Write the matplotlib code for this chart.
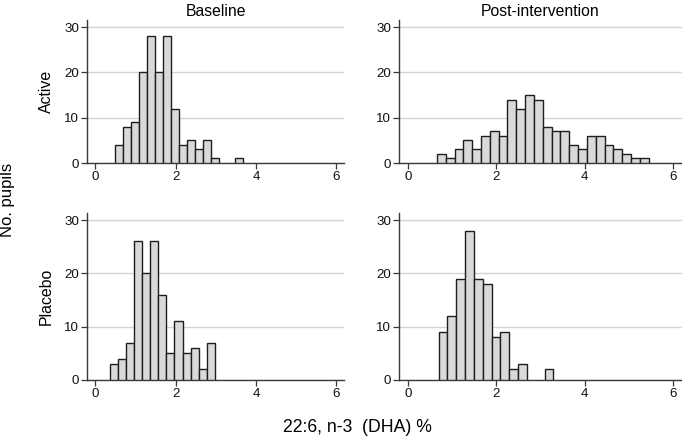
import numpy as np
import matplotlib
matplotlib.use("Agg")
import matplotlib.pyplot as plt

plt.rcParams['font.family'] = ['Liberation Sans', 'DejaVu Sans']

# ---- data ----
bin_width = 0.2
active_base_start = 0.48
active_base_counts = [4, 8, 9, 20, 28, 20, 28, 12, 4, 5, 3, 5, 1, 0, 0, 1]
active_post_start = 0.65
active_post_counts = [2, 1, 3, 5, 3, 6, 7, 6, 14, 12, 15, 14, 8, 7, 7, 4, 3, 6, 6, 4, 3, 2, 1, 1]
placebo_base_start = 0.37
placebo_base_counts = [3, 4, 7, 26, 20, 26, 16, 5, 11, 5, 6, 2, 7]
placebo_post_start = 0.69
placebo_post_counts = [9, 12, 19, 28, 19, 18, 8, 9, 2, 3, 0, 0, 2]

col_titles = ["Baseline", "Post-intervention"]
row_titles = ["Active", "Placebo"]
xticks = [0, 2, 4, 6]
yticks = [0, 10, 20, 30]
xlabel = "22:6, n-3  (DHA) %"
ylabel = "No. pupils"

W, H = 682, 437
fig = plt.figure(figsize=(W / 100, H / 100), dpi=100)

cols_px = [(87.3, 344.0), (399.3, 681.5)]
rows_px = [(20.0, 163.0), (212.7, 380.0)]

panels = [
    [(active_base_start, active_base_counts), (active_post_start, active_post_counts)],
    [(placebo_base_start, placebo_base_counts), (placebo_post_start, placebo_post_counts)],
]

spine_col = "#3a3a3a"
for r in range(2):
    for c in range(2):
        x0, x1 = cols_px[c]
        yt, yb = rows_px[r]
        ax = fig.add_axes([x0 / W, 1 - yb / H, (x1 - x0) / W, (yb - yt) / H])
        start, counts = panels[r][c]
        counts = np.array(counts)
        edges = start + bin_width * np.arange(len(counts))
        mask = counts > 0
        ax.bar(edges[mask], counts[mask], width=bin_width, align='edge',
               color="#d9d9d9", edgecolor="#1e1e1e", linewidth=1.0, zorder=3)
        ax.set_xlim(-0.2, 6.19)
        ax.set_ylim(0, 31.6 if r == 0 else 31.4)
        ax.set_xticks(xticks)
        ax.set_yticks(yticks)
        ax.grid(axis='y', color="#d4d4d4", linewidth=1.0, zorder=0)
        ax.set_axisbelow(True)
        for s in ("top", "right"):
            ax.spines[s].set_visible(False)
        for s in ("left", "bottom"):
            ax.spines[s].set_color(spine_col)
            ax.spines[s].set_linewidth(1.0)
        ax.tick_params(axis='both', length=4, width=0.9, color=spine_col,
                       labelsize=9.6, pad=2, labelcolor="#111111")
        if r == 0:
            ax.set_title(col_titles[c], fontsize=11.3, pad=3)
        if c == 0:
            fig.text(46.5 / W, 1 - ((yt + yb) / 2) / H, row_titles[r], rotation=90,
                     ha='center', va='center', fontsize=11.4)

fig.text(8 / W, 1 - 200 / H, ylabel, rotation=90, ha='center', va='center', fontsize=12)
fig.text(357 / W, 1 - 431.7 / H, xlabel, ha='center', va='baseline', fontsize=12.7)

fig.savefig("out.png", dpi=100, facecolor="white")
